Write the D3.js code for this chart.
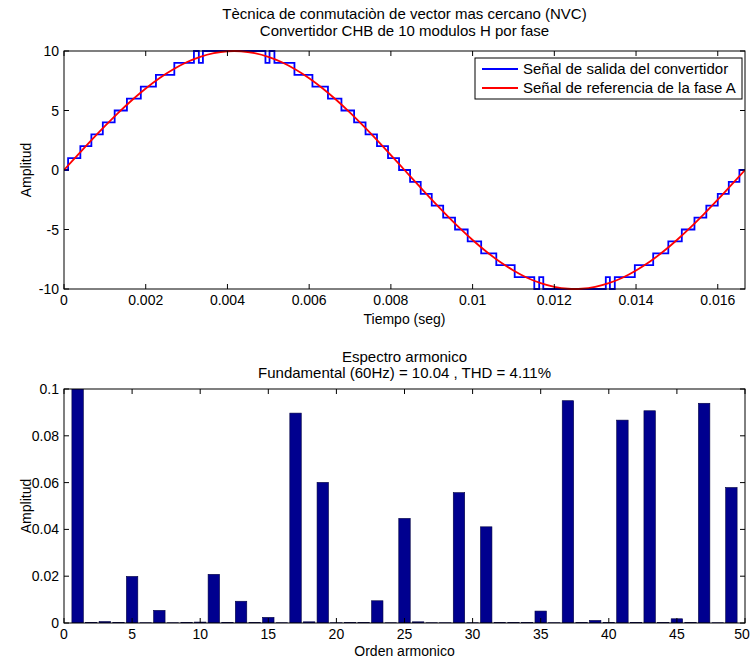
<!DOCTYPE html>
<html>
<head>
<meta charset="utf-8">
<script src="https://cdn.jsdelivr.net/npm/d3@7"></script>
<style>
  body { margin: 0; background: #fff; }
  text { font-family: "Liberation Sans", Arial, sans-serif; fill: #000; }
</style>
</head>
<body>
<div id="chart"></div>
<script>
// ---- data ----
// reference signal (phase A), sampled every refStep seconds
let refStep = 1 / 3000;
let refValues = [0, 1.25, 2.49, 3.68, 4.82, 5.88, 6.85, 7.71, 8.44, 9.05, 9.51, 9.82, 9.98,
    9.98, 9.82, 9.51, 9.05, 8.44, 7.71, 6.85, 5.88, 4.82, 3.68, 2.49, 1.25, 0,
    -1.25, -2.49, -3.68, -4.82, -5.88, -6.85, -7.71, -8.44, -9.05, -9.51, -9.82, -9.98,
    -9.98, -9.82, -9.51, -9.05, -8.44, -7.71, -6.85, -5.88, -4.82, -3.68, -2.49, -1.25, 0];

// converter output: switching instants and level held after each
let stepTimes = [0, 0.00010, 0.00040, 0.00067, 0.00095, 0.00124, 0.00154, 0.00188, 0.00225, 0.00270,
    0.00318, 0.00330, 0.00340, 0.00493, 0.00503, 0.00515,
    0.00564, 0.00608, 0.00646, 0.00679, 0.00710, 0.00738, 0.00766, 0.00793, 0.00820,
    0.00847, 0.00873, 0.00900, 0.00928, 0.00957, 0.00988, 0.01021, 0.01058, 0.01103,
    0.01151, 0.01163, 0.01173, 0.01326, 0.01336, 0.01348,
    0.01397, 0.01442, 0.01479, 0.01512, 0.01543, 0.01572, 0.01600, 0.01627, 0.01653, 0.016667];
let stepLevels = [0, 1, 2, 3, 4, 5, 6, 7, 8, 9,
    10, 9, 10, 9, 10, 9,
    8, 7, 6, 5, 4, 3, 2, 1, 0,
    -1, -2, -3, -4, -5, -6, -7, -8, -9,
    -10, -9, -10, -9, -10, -9,
    -8, -7, -6, -5, -4, -3, -2, -1, 0, 0];

let timeTicks = [0, 0.002, 0.004, 0.006, 0.008, 0.01, 0.012, 0.014, 0.016];
let timeTickLabels = ["0", "0.002", "0.004", "0.006", "0.008", "0.01", "0.012", "0.014", "0.016"];
let ampTicks = [-10, -5, 0, 5, 10];

// harmonic spectrum
let harmonicOrder = [1, 2, 3, 4, 5, 6, 7, 8, 9, 10, 11, 12, 13, 14, 15, 16, 17, 18, 19, 20,
    21, 22, 23, 24, 25, 26, 27, 28, 29, 30, 31, 32, 33, 34, 35, 36, 37, 38, 39, 40,
    41, 42, 43, 44, 45, 46, 47, 48, 49];
let harmonicAmp = [10.04, 0.0003, 0.0006, 0.0003, 0.0199, 0.0001, 0.0054, 0.0001, 0.0003, 0.0004,
    0.0208, 0.0003, 0.0093, 0.0002, 0.0024, 0.0001, 0.0897, 0.0005, 0.0601, 0.0001,
    0.0002, 0.0002, 0.0095, 0.0001, 0.0447, 0.0005, 0.0001, 0.0001, 0.0557, 0.0001,
    0.0411, 0.0002, 0.0002, 0.0002, 0.0051, 0.0001, 0.0950, 0.0002, 0.0011, 0.0002,
    0.0867, 0.0003, 0.0907, 0.0002, 0.0018, 0.0002, 0.0939, 0.0001, 0.0579];
let orderTicks = [0, 5, 10, 15, 20, 25, 30, 35, 40, 45, 50];
let specTicks = [0, 0.02, 0.04, 0.06, 0.08, 0.1];
let specTickLabels = ["0", "0.02", "0.04", "0.06", "0.08", "0.1"];

let legendNames = ["Señal de salida del convertidor", "Señal de referencia de la fase A"];
let legendColors = ["#0000ff", "#ff0000"];

// ---- layout ----
let width = 751, height = 662;
let top1 = {left: 64, right: 745, top: 51, bottom: 289};
let bot1 = {left: 64, right: 745, top: 389, bottom: 623};
let tickLen = 5;

let svg = d3.select("#chart")
    .append("svg")
    .attr("width", width)
    .attr("height", height);

let defs = svg.append("defs");
defs.append("clipPath").attr("id", "clipTop")
    .append("rect")
    .attr("x", top1.left).attr("y", top1.top - 1)
    .attr("width", top1.right - top1.left).attr("height", top1.bottom - top1.top + 2);
defs.append("clipPath").attr("id", "clipBot")
    .append("rect")
    .attr("x", bot1.left).attr("y", bot1.top)
    .attr("width", bot1.right - bot1.left).attr("height", bot1.bottom - bot1.top);

// ---- top plot ----
let x = d3.scaleLinear().domain([0, 1 / 60]).range([top1.left, top1.right]);
let y = d3.scaleLinear().domain([-10, 10]).range([top1.bottom, top1.top]);

let plotTop = svg.append("g").attr("clip-path", "url(#clipTop)");

let stepData = stepTimes.map((t, i) => [t, stepLevels[i]]);
plotTop.append("path")
    .datum(stepData)
    .attr("fill", "none")
    .attr("stroke", legendColors[0])
    .attr("stroke-width", 1.8)
    .attr("d", d3.line().x(d => x(d[0])).y(d => y(d[1])).curve(d3.curveStepAfter));

plotTop.append("path")
    .datum(refValues)
    .attr("fill", "none")
    .attr("stroke", legendColors[1])
    .attr("stroke-width", 1.8)
    .attr("d", d3.line().x((d, i) => x(i * refStep)).y(d => y(d)).curve(d3.curveCardinal));

function frame(g, box) {
    g.append("rect")
        .attr("x", box.left).attr("y", box.top)
        .attr("width", box.right - box.left).attr("height", box.bottom - box.top)
        .attr("fill", "none").attr("stroke", "#000").attr("stroke-width", 1);
}

function ticks(g, box, xs, xScale, ys, yScale) {
    xs.forEach(v => {
        let px = xScale(v);
        g.append("line").attr("x1", px).attr("x2", px)
            .attr("y1", box.bottom).attr("y2", box.bottom - tickLen).attr("stroke", "#000");
        g.append("line").attr("x1", px).attr("x2", px)
            .attr("y1", box.top).attr("y2", box.top + tickLen).attr("stroke", "#000");
    });
    ys.forEach(v => {
        let py = yScale(v);
        g.append("line").attr("x1", box.left).attr("x2", box.left + tickLen)
            .attr("y1", py).attr("y2", py).attr("stroke", "#000");
        g.append("line").attr("x1", box.right).attr("x2", box.right - tickLen)
            .attr("y1", py).attr("y2", py).attr("stroke", "#000");
    });
}

let axTop = svg.append("g");
frame(axTop, top1);
ticks(axTop, top1, timeTicks, x, ampTicks, y);

axTop.selectAll(".xl").data(timeTicks).enter()
    .append("text")
    .attr("x", d => x(d))
    .attr("y", top1.bottom + 16)
    .style("text-anchor", "middle")
    .style("font-size", "14px")
    .text((d, i) => timeTickLabels[i]);

axTop.selectAll(".yl").data(ampTicks).enter()
    .append("text")
    .attr("x", top1.left - 5)
    .attr("y", d => y(d) + 5)
    .style("text-anchor", "end")
    .style("font-size", "14px")
    .text(d => d);

svg.append("text")
    .attr("x", (top1.left + top1.right) / 2).attr("y", 19)
    .style("text-anchor", "middle").style("font-size", "15px")
    .text("Tècnica de conmutaciòn de vector mas cercano (NVC)");
svg.append("text")
    .attr("x", (top1.left + top1.right) / 2).attr("y", 36)
    .style("text-anchor", "middle").style("font-size", "15px")
    .text("Convertidor CHB de 10 modulos H por fase");
svg.append("text")
    .attr("x", (top1.left + top1.right) / 2).attr("y", 324)
    .style("text-anchor", "middle").style("font-size", "14px")
    .text("Tiempo (seg)");
svg.append("text")
    .attr("transform", `translate(31, ${(top1.top + top1.bottom) / 2})rotate(-90)`)
    .style("text-anchor", "middle").style("font-size", "14px")
    .text("Amplitud");

// legend
let leg = svg.append("g");
leg.append("rect")
    .attr("x", 475).attr("y", 58).attr("width", 267).attr("height", 41)
    .attr("fill", "#fff").attr("stroke", "#000");
legendNames.forEach((name, i) => {
    let ly = 69 + i * 19;
    leg.append("line")
        .attr("x1", 482).attr("x2", 518).attr("y1", ly).attr("y2", ly)
        .attr("stroke", legendColors[i]).attr("stroke-width", 1.8);
    leg.append("text")
        .attr("x", 523).attr("y", ly + 5)
        .style("font-size", "15px")
        .text(name);
});

// ---- bottom plot ----
let xb = d3.scaleLinear().domain([0, 50]).range([bot1.left, bot1.right]);
let yb = d3.scaleLinear().domain([0, 0.1]).range([bot1.bottom, bot1.top]);
let barW = (xb(1) - xb(0)) * 0.84;

svg.append("g")
    .attr("clip-path", "url(#clipBot)")
    .selectAll("rect")
    .data(harmonicOrder)
    .enter()
    .append("rect")
    .attr("x", d => xb(d) - barW / 2)
    .attr("y", (d, i) => yb(harmonicAmp[i]))
    .attr("width", barW)
    .attr("height", (d, i) => Math.max(bot1.bottom - yb(harmonicAmp[i]), 0))
    .attr("fill", "#00008f")
    .attr("stroke", "#000040")
    .attr("stroke-width", 0.6);

let axBot = svg.append("g");
frame(axBot, bot1);
ticks(axBot, bot1, orderTicks, xb, specTicks, yb);

// last label nudged left so it stays inside the page
axBot.selectAll(".xl").data(orderTicks).enter()
    .append("text")
    .attr("x", d => Math.min(xb(d), width - 9))
    .attr("y", bot1.bottom + 16)
    .style("text-anchor", "middle")
    .style("font-size", "14px")
    .text(d => d);

axBot.selectAll(".yl").data(specTicks).enter()
    .append("text")
    .attr("x", bot1.left - 5)
    .attr("y", d => yb(d) + 5)
    .style("text-anchor", "end")
    .style("font-size", "14px")
    .text((d, i) => specTickLabels[i]);

svg.append("text")
    .attr("x", (bot1.left + bot1.right) / 2).attr("y", 362)
    .style("text-anchor", "middle").style("font-size", "15px")
    .text("Espectro armonico");
svg.append("text")
    .attr("x", (bot1.left + bot1.right) / 2).attr("y", 378)
    .style("text-anchor", "middle").style("font-size", "15px")
    .text("Fundamental (60Hz) = 10.04 , THD = 4.11%");
svg.append("text")
    .attr("x", (bot1.left + bot1.right) / 2).attr("y", 656)
    .style("text-anchor", "middle").style("font-size", "14px")
    .text("Orden armonico");
svg.append("text")
    .attr("transform", `translate(31, ${(bot1.top + bot1.bottom) / 2})rotate(-90)`)
    .style("text-anchor", "middle").style("font-size", "14px")
    .text("Amplitud");
</script>
</body>
</html>
